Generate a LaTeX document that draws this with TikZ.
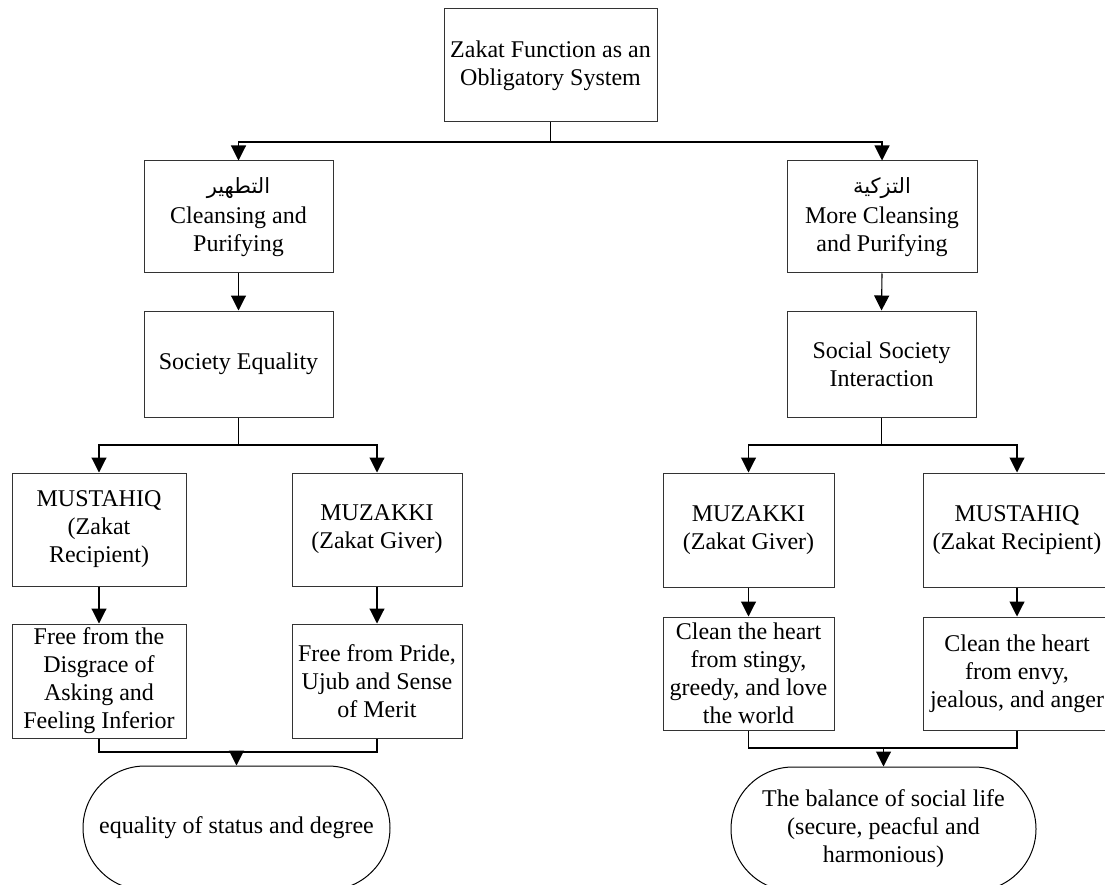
\documentclass[tikz,border=0pt]{standalone}
\usepackage{fontspec}
\setmainfont{Liberation Serif}
\newfontfamily\arabicfont[Script=Arabic]{DejaVu Sans}
\TeXXeTstate=1
\usetikzlibrary{arrows.meta,shapes.misc}
\begin{document}
\begin{tikzpicture}[x=1pt,y=-1pt,
  box/.style={draw=black!80, line width=1pt, rectangle, align=center, inner sep=0pt,
    font=\fontsize{24}{28}\selectfont},
  ov/.style={draw=black, line width=1pt, rounded rectangle, rounded rectangle arc length=180,
    align=center, inner sep=0pt, font=\fontsize{24}{28}\selectfont},
  conn/.style={draw=black, line width=1.1pt},
  arr/.style={conn, -{Triangle[width=15pt,length=15pt]}}]
\useasboundingbox (0,0) rectangle (1105,885);
% nodes
\node[box, minimum width=213pt, minimum height=113pt] (top) at (550.5,65.5)
  {Zakat Function as an\\Obligatory System};
\node[box, minimum width=189pt, minimum height=112pt] (L1) at (238.5,217)
  {{\arabicfont\fontsize{21}{28}\selectfont\beginR التطهير\endR}\\[2pt]Cleansing and\\Purifying};
\node[box, minimum width=190pt, minimum height=112pt] (R1) at (882,217)
  {{\arabicfont\fontsize{21}{28}\selectfont\beginR التزكية\endR}\\[2pt]More Cleansing\\and Purifying};
\node[box, minimum width=189pt, minimum height=106pt] (L2) at (238.5,364)
  {Society Equality};
\node[box, minimum width=189pt, minimum height=106pt] (R2) at (881.5,364)
  {Social Society\\Interaction};
\node[box, minimum width=174pt, minimum height=113pt] (L3a) at (99,529.5)
  {MUSTAHIQ\\(Zakat\\Recipient)};
\node[box, minimum width=170pt, minimum height=113pt] (L3b) at (377,529.5)
  {MUZAKKI\\(Zakat Giver)};
\node[box, minimum width=171pt, minimum height=114pt] (R3a) at (748.5,530)
  {MUZAKKI\\(Zakat Giver)};
\node[box, minimum width=188pt, minimum height=114pt] (R3b) at (1017,530)
  {MUSTAHIQ\\(Zakat Recipient)};
\node[box, minimum width=174pt, minimum height=114pt] (L4a) at (99,681)
  {Free from the\\Disgrace of\\Asking and\\Feeling Inferior};
\node[box, minimum width=170pt, minimum height=114pt] (L4b) at (377,681)
  {Free from Pride,\\Ujub and Sense\\of Merit};
\node[box, minimum width=171pt, minimum height=113pt] (R4a) at (748.5,673.5)
  {Clean the heart\\from stingy,\\greedy, and love\\the world};
\node[box, minimum width=188pt, minimum height=113pt] (R4b) at (1017,673.5)
  {Clean the heart\\from envy,\\jealous, and anger};
\node[ov, minimum width=307pt, minimum height=124pt] (OL) at (236.5,828)
  {equality of status and degree};
\node[ov, minimum width=305pt, minimum height=124pt] (OR) at (883.5,829)
  {The balance of social life\\(secure, peacful and\\harmonious)};
% fork coordinates
\coordinate (f0) at (0,142);
\coordinate (fL) at (0,445);
\coordinate (fR) at (0,445);
\coordinate (jL) at (0,752);
\coordinate (jR) at (0,748);
% connectors
\draw[conn] (top.south) -- (top.south |- f0);
\draw[arr] (top.south |- f0) -| (L1.north);
\draw[arr] (top.south |- f0) -| (R1.north);
\draw[arr] (L1.south) -- (L2.north);
\draw[arr] (R1.south) -- (R2.north);
\draw[conn] (L2.south) -- (L2.south |- fL);
\draw[arr] (L2.south |- fL) -| (L3a.north);
\draw[arr] (L2.south |- fL) -| (L3b.north);
\draw[conn] (R2.south) -- (R2.south |- fR);
\draw[arr] (R2.south |- fR) -| (R3a.north);
\draw[arr] (R2.south |- fR) -| (R3b.north);
\draw[arr] (L3a.south) -- (L4a.north);
\draw[arr] (L3b.south) -- (L4b.north);
\draw[arr] (R3a.south) -- (R4a.north);
\draw[arr] (R3b.south) -- (R4b.north);
\draw[conn] (L4a.south) -- (L4a.south |- jL) -- (L4b.south |- jL) -- (L4b.south);
\draw[arr] (OL.north |- jL) -- (OL.north);
\draw[conn] (R4a.south) -- (R4a.south |- jR) -- (R4b.south |- jR) -- (R4b.south);
\draw[arr] (OR.north |- jR) -- (OR.north);
\end{tikzpicture}
\end{document}
